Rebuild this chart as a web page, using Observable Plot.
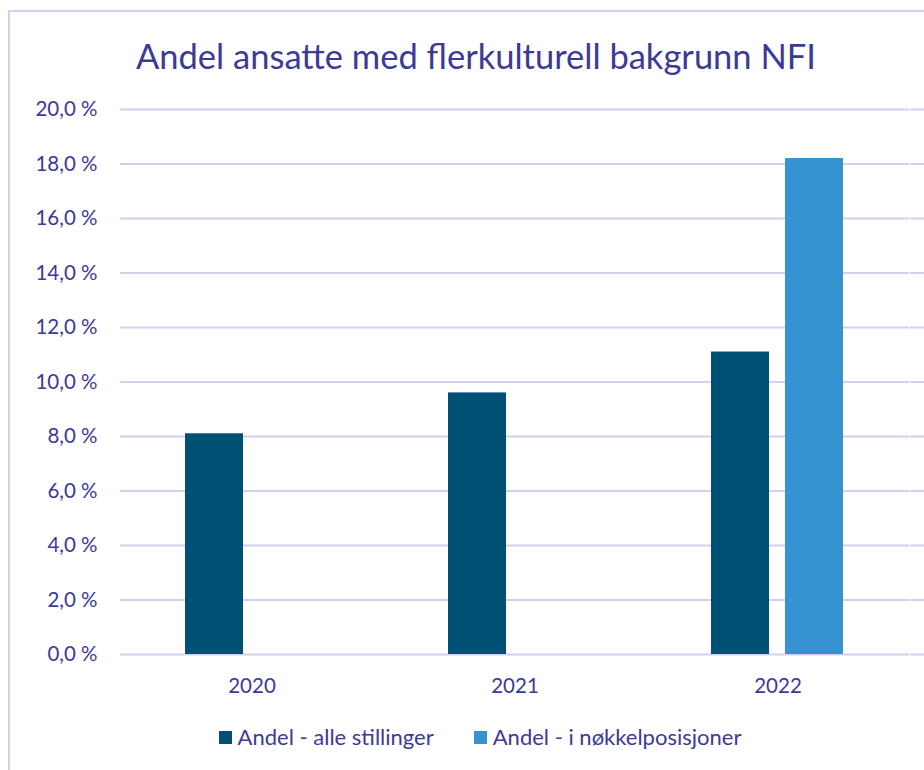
<!DOCTYPE html>
<html>
<head>
<meta charset="utf-8">
<script src="https://cdn.jsdelivr.net/npm/d3@7"></script>
<script src="https://cdn.jsdelivr.net/npm/@observablehq/plot@0.6"></script>
<style>
  html, body { margin: 0; padding: 0; background: #fff; }
  #wrap { position: relative; width: 924px; height: 770px; overflow: hidden; font-family: Lato, "Open Sans", sans-serif; color: #3B3A98; }
  #frame { position: absolute; left: 8px; top: 10px; width: 930px; height: 780px; border-left: 2px solid #D3CFEE; border-top: 2px solid #D3CFEE; }
  #title { position: absolute; left: 0; width: 952px; top: 36px; text-align: center; font-size: 34.5px; line-height: 40px; }
  #chart { position: absolute; left: 0; top: 90px; }
  #legend { position: absolute; left: 18px; top: 723px; width: 924px; display: flex; justify-content: center; font-size: 22px; line-height: 28px; }
  .item { display: flex; align-items: center; margin: 0 20px; }
  .sw { width: 13px; height: 13px; margin-right: 6px; }
</style>
</head>
<body>
<div id="wrap">
  <div id="frame"></div>
  <div id="title">Andel ansatte med flerkulturell bakgrunn NFI</div>
  <div id="chart"></div>
  <div id="legend"></div>
</div>
<script>
const years = ["2020", "2021", "2022"];
const series = ["Andel - alle stillinger", "Andel - i nøkkelposisjoner"];
const alleStillinger = [8.1, 9.6, 11.1];
const nokkelposisjoner = [null, null, 18.2];
const yTicks = [0, 2, 4, 6, 8, 10, 12, 14, 16, 18, 20];
const colors = ["#005076", "#3692D0"];

const table = [];
years.forEach((y, i) => {
  if (alleStillinger[i] != null) table.push({year: y, series: series[0], value: alleStillinger[i]});
  if (nokkelposisjoner[i] != null) table.push({year: y, series: series[1], value: nokkelposisjoner[i]});
});

const fmt = d => d.toFixed(1).replace(".", ",") + " %";
const gridColor = "#D3CFEE";

const chart = Plot.plot({
  width: 924,
  height: 620,
  marginLeft: 119,
  marginRight: 14,
  marginTop: 19,
  marginBottom: 56,
  style: { fontFamily: "Lato, 'Open Sans', sans-serif", fontSize: "20.5px", color: "#3B3A98", background: "transparent", overflow: "visible" },
  fx: { domain: years, padding: 0, label: null, axis: "bottom", tickSize: 0, tickPadding: 24 },
  x: { domain: series, paddingInner: 0.213, paddingOuter: 0.863, axis: null },
  y: { domain: [0, 20], label: null },
  color: { domain: series, range: colors },
  marks: [
    Plot.gridY(yTicks, { stroke: gridColor, strokeOpacity: 1, strokeWidth: 2 }),
    Plot.axisY(yTicks, { anchor: "left", tickFormat: fmt, tickSize: 0, tickPadding: 23, label: null }),
    Plot.axisY(yTicks, { anchor: "right", tickFormat: () => "", tickSize: 14, stroke: gridColor, strokeWidth: 2, label: null }),
    Plot.barY(table, { fx: "year", x: "series", y: "value", fill: "series" })
  ]
});
document.getElementById("chart").appendChild(chart);

const legend = document.getElementById("legend");
series.forEach((s, i) => {
  const it = document.createElement("div");
  it.className = "item";
  const sw = document.createElement("div");
  sw.className = "sw";
  sw.style.background = colors[i];
  const tx = document.createElement("span");
  tx.textContent = s;
  it.appendChild(sw);
  it.appendChild(tx);
  legend.appendChild(it);
});
</script>
</body>
</html>
